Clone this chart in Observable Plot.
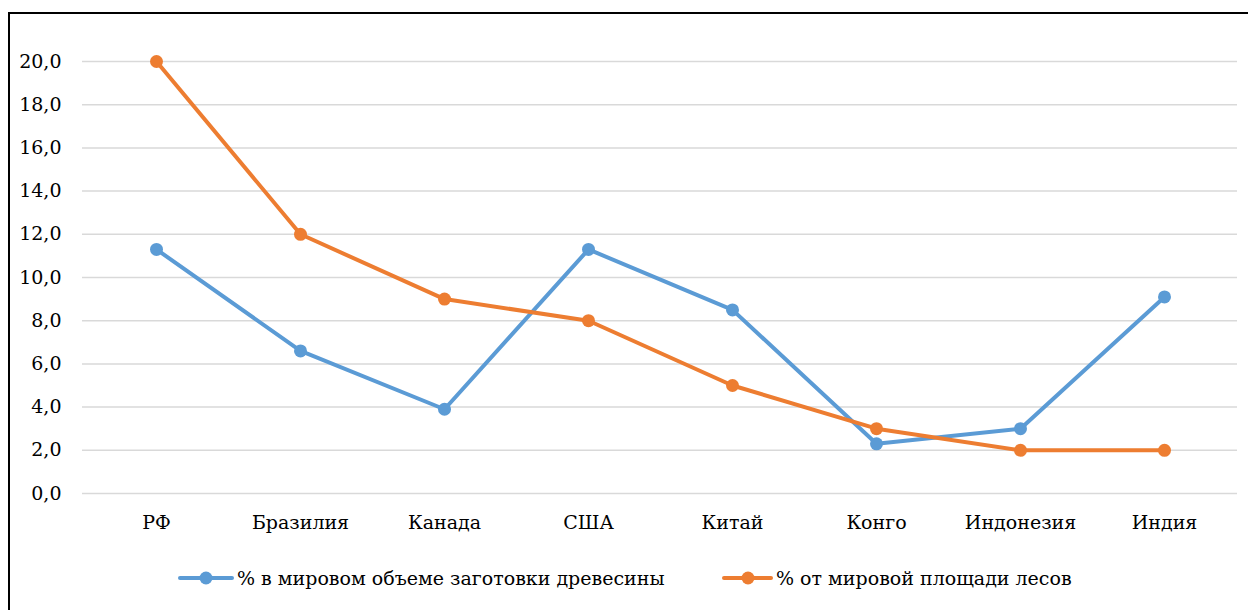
<!DOCTYPE html>
<html><head><meta charset="utf-8">
<script src="https://cdn.jsdelivr.net/npm/d3@7"></script>
<script src="https://cdn.jsdelivr.net/npm/@observablehq/plot@0.6"></script>
<style>
html,body{margin:0;padding:0;background:#fff;overflow:hidden;width:1248px;height:610px;}
#frame{position:absolute;left:8px;top:12px;width:1300px;height:700px;border:2px solid #000;box-sizing:border-box;pointer-events:none;}
#chart{position:absolute;left:0;top:0;}
.leg{position:absolute;top:566px;display:flex;align-items:center;font-family:'DejaVu Serif', serif;font-size:19px;color:#000;white-space:nowrap;}
.leg svg{display:block;margin-right:3px;}
</style></head>
<body>
<div id="chart"></div>
<div class="leg" style="left:178px"><svg width="56" height="24"><line x1="2" y1="12" x2="54" y2="12" stroke="#5b9bd5" stroke-width="4" stroke-linecap="round"/><circle cx="28" cy="12" r="6.5" fill="#5b9bd5"/></svg><span>% в мировом объеме заготовки древесины</span></div>
<div class="leg" style="left:722px"><svg width="51" height="24"><line x1="2" y1="12" x2="49" y2="12" stroke="#ed7d31" stroke-width="4" stroke-linecap="round"/><circle cx="26" cy="12" r="6.5" fill="#ed7d31"/></svg><span>% от мировой площади лесов</span></div>
<div id="frame"></div>
<script>
const categories = ["РФ","Бразилия","Канада","США","Китай","Конго","Индонезия","Индия"];
const harvestShare = [11.3, 6.6, 3.9, 11.3, 8.5, 2.3, 3.0, 9.1];
const forestShare = [20.0, 12.0, 9.0, 8.0, 5.0, 3.0, 2.0, 2.0];
const yTicks = [0,2,4,6,8,10,12,14,16,18,20];
const seriesNames = ["% в мировом объеме заготовки древесины","% от мировой площади лесов"];
const colors = ["#5b9bd5","#ed7d31"];

const data = [];
categories.forEach((c,i)=>{ data.push({cat:c, value:harvestShare[i], series:seriesNames[0]}); });
categories.forEach((c,i)=>{ data.push({cat:c, value:forestShare[i], series:seriesNames[1]}); });
const fmt = d => d.toFixed(1).replace(".", ",");
const FONT = "'DejaVu Serif', serif";

const chart = Plot.plot({
  width: 1248,
  height: 555,
  marginLeft: 82,
  marginRight: 11,
  marginTop: 61,
  marginBottom: 62,
  style: {fontFamily: FONT, fontSize: "19px", color: "#000", background: "transparent"},
  x: {type: "point", domain: categories, padding: 0.5, label: null},
  y: {domain: [0, 20], ticks: yTicks, label: null},
  color: {domain: seriesNames, range: colors},
  marks: [
    Plot.ruleY(yTicks, {stroke: "#d9d9d9", strokeWidth: 1.5}),
    Plot.axisY({ticks: yTicks, tickSize: 0, tickPadding: 21, tickFormat: fmt, label: null, fontSize: 19, fontFamily: FONT}),
    Plot.axisX({tickSize: 0, tickPadding: 22, label: null, fontSize: 19, fontFamily: FONT}),
    Plot.line(data, {x: "cat", y: "value", z: "series", stroke: "series", strokeWidth: 4, strokeLinejoin: "round"}),
    Plot.dot(data, {x: "cat", y: "value", fill: "series", r: 6.5})
  ]
});
document.getElementById("chart").appendChild(chart);
</script>
</body></html>
